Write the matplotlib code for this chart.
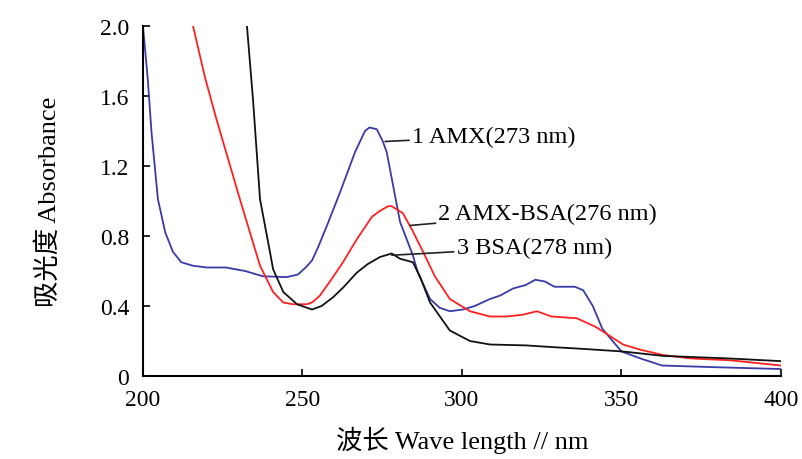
import matplotlib
matplotlib.use("Agg")
import matplotlib.pyplot as plt

plt.rcParams['font.family'] = ['Liberation Serif', 'Noto Sans CJK SC']

# AMX (blue)
amx_x = [200, 201.5, 202.7, 204.7, 207, 209.4, 212, 215.7, 220, 226, 232, 237.6, 245, 248.6,
         251, 253, 255, 257.7, 261.8, 266.5, 269.6, 271, 273.3, 275.2, 276.4, 280.6, 284.6,
         286.2, 290, 293, 296.2, 300.3, 304, 308.8, 312, 316, 320, 323, 326, 329, 335.4, 338,
         341, 344, 350, 356, 362.7, 380, 400]
amx_y = [2.0, 1.7, 1.39, 1.01, 0.82, 0.71, 0.65, 0.63, 0.62, 0.62, 0.60, 0.57, 0.565, 0.58,
         0.62, 0.66, 0.74, 0.86, 1.05, 1.28, 1.40, 1.42, 1.41, 1.34, 1.28, 0.88, 0.69,
         0.59, 0.44, 0.39, 0.37, 0.38, 0.40, 0.44, 0.46, 0.50, 0.52, 0.55, 0.54, 0.51, 0.51, 0.49,
         0.40, 0.27, 0.14, 0.10, 0.06, 0.05, 0.04]

# AMX-BSA (red)
mix_x = [215.7, 219.4, 223, 230.4, 236.7, 240.8, 244, 247, 251.4, 253, 255.5, 259, 262.7, 267,
         271.8, 274, 276.8, 278, 281.5, 284.5, 287.8, 291.5, 296.2, 302.5, 308.8, 314, 319,
         323.5, 328, 336, 342, 350.5, 356, 363, 372, 384, 400]
mix_y = [2.0, 1.71, 1.47, 1.01, 0.63, 0.48, 0.42, 0.41, 0.41, 0.42, 0.46, 0.55, 0.65, 0.78,
         0.91, 0.94, 0.97, 0.97, 0.93, 0.83, 0.71, 0.57, 0.44, 0.37, 0.34, 0.34, 0.35,
         0.37, 0.34, 0.33, 0.28, 0.18, 0.15, 0.12, 0.10, 0.09, 0.06]

# BSA (black)
bsa_x = [232.6, 234.5, 236.7, 239.8, 240.8, 244, 248.3, 253, 256, 259.6, 263, 267, 270.5, 274.3,
         278, 280.6, 284.6, 286.8, 290, 296.2, 302.5, 308.8, 320, 328.5, 338, 350.5, 363, 384, 400]
bsa_y = [2.0, 1.58, 1.01, 0.71, 0.61, 0.48, 0.41, 0.38, 0.40, 0.45, 0.51, 0.59, 0.64, 0.68,
         0.70, 0.67, 0.65, 0.57, 0.42, 0.26, 0.20, 0.18, 0.175, 0.165, 0.155, 0.14, 0.115, 0.10, 0.085]

x_ticks = [200, 250, 300, 350, 400]
y_ticks = [0, 0.4, 0.8, 1.2, 1.6, 2.0]
y_tick_labels = ['0', '0.4', '0.8', '1.2', '1.6', '2.0']

labels = ['1 AMX(273 nm)', '2 AMX-BSA(276 nm)', '3 BSA(278 nm)']

fig = plt.figure(figsize=(8.03, 4.60), dpi=100)
ax = fig.add_axes([0.178, 0.1804, 0.7946, 0.761])

lw = 1.3
ax.plot(amx_x, amx_y, color='#3a3aa8', lw=lw)
ax.plot(mix_x, mix_y, color='#ff2020', lw=lw)
ax.plot(bsa_x, bsa_y, color='#111111', lw=lw)

ax.set_xlim(200, 400)
ax.set_ylim(0, 2.0)
ax.set_xticks(x_ticks)
ax.set_yticks(y_ticks)
ax.set_yticklabels(y_tick_labels)
ax.tick_params(direction='in', length=5, width=1.2, labelsize=17)
ax.tick_params(axis='x', pad=9)
ax.tick_params(axis='y', pad=10)
for s in ['top', 'right']:
    ax.spines[s].set_visible(False)
for s in ['left', 'bottom']:
    ax.spines[s].set_linewidth(1.5)

ax.set_xlabel('波长 Wave length // nm', fontsize=19, labelpad=12)
ax.set_ylabel('吸光度 Absorbance', fontsize=19, labelpad=28)

# Annotations with leader lines
fs = 17.5
ax.annotate(labels[0], xy=(275.9, 1.34), xytext=(284.3, 1.37), fontsize=fs,
            va='center', ha='left',
            arrowprops=dict(arrowstyle='-', color='#222222', lw=1.2, shrinkA=0, shrinkB=0))
ax.annotate(labels[1], xy=(283.7, 0.86), xytext=(292.6, 0.93), fontsize=fs,
            va='center', ha='left',
            arrowprops=dict(arrowstyle='-', color='#222222', lw=1.2, shrinkA=0, shrinkB=0))
ax.annotate(labels[2], xy=(278, 0.69), xytext=(298.3, 0.735), fontsize=fs,
            va='center', ha='left',
            arrowprops=dict(arrowstyle='-', color='#222222', lw=1.2, shrinkA=0, shrinkB=0))

fig.savefig('out.png', dpi=100)
